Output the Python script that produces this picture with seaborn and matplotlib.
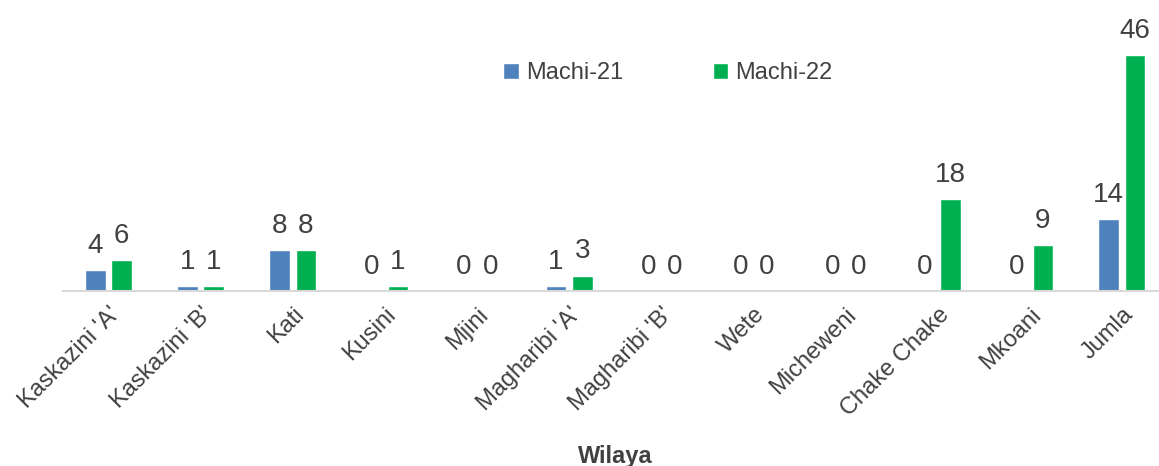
import pandas as pd
import seaborn as sns
import matplotlib.pyplot as plt

# Data
wilaya = ["Kaskazini 'A'", "Kaskazini 'B'", "Kati", "Kusini", "Mjini",
          "Magharibi 'A'", "Magharibi 'B'", "Wete", "Micheweni",
          "Chake Chake", "Mkoani", "Jumla"]
machi_21 = [4, 1, 8, 0, 0, 1, 0, 0, 0, 0, 0, 14]
machi_22 = [6, 1, 8, 1, 0, 3, 0, 0, 0, 18, 9, 46]

df = pd.DataFrame({"Wilaya": wilaya * 2,
                   "Idadi": machi_21 + machi_22,
                   "Kipindi": ["Machi-21"] * len(wilaya) + ["Machi-22"] * len(wilaya)})

sns.set_style("white")
plt.rcParams["font.family"] = ["Liberation Sans Narrow", "Liberation Sans", "DejaVu Sans"]

txt = "#404040"
fig = plt.figure(figsize=(11.59, 4.66), dpi=100)
# chart is cropped on the right in the reference, so axes run past the edge
ax = fig.add_axes([62.5 / 1159, 175 / 466, 1105.5 / 1159, 291 / 466])

sns.barplot(data=df, x="Wilaya", y="Idadi", hue="Kipindi",
            palette=["#4f81bd", "#00b050"], saturation=1,
            width=0.57, gap=0.21, ax=ax, legend=True)

for cont in ax.containers:
    ax.bar_label(cont, padding=8, fontsize=20, color=txt)

ax.set_ylim(0, 291 / 5.13)
ax.set_xlim(-0.5, len(wilaya) - 0.5)
ax.set_yticks([])
ax.set_ylabel("")
ax.set_xlabel("Wilaya", fontsize=17, fontweight="bold", color=txt, labelpad=0)
ax.xaxis.set_label_coords((615 - 62.5) / 1105.5, -(445 - 291) / 291)
ax.tick_params(axis="x", length=0, pad=9, labelsize=17, labelcolor=txt)
plt.setp(ax.get_xticklabels(), rotation=45, ha="right", rotation_mode="anchor")

for s in ["top", "right", "left"]:
    ax.spines[s].set_visible(False)
ax.spines["bottom"].set_color("#d9d9d9")
ax.spines["bottom"].set_linewidth(1.5)

ax.legend(title=None, frameon=False, ncol=2, loc="center",
          bbox_to_anchor=((668 - 62.5) / 1105.5, (291 - 73) / 291),
          fontsize=17, labelcolor=txt, handlelength=0.65, handleheight=0.65,
          columnspacing=3.8, handletextpad=0.3)

fig.savefig("out.png", dpi=100)
